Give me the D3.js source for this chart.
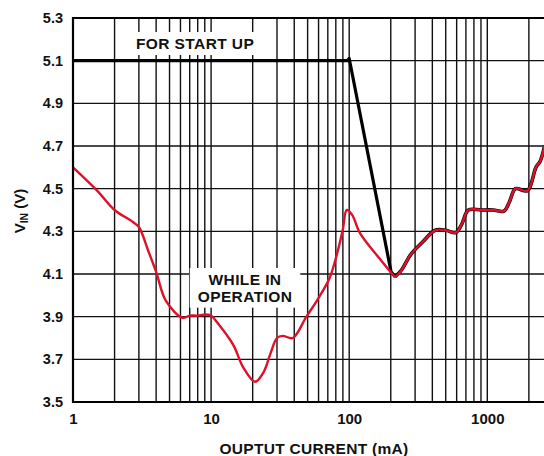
<!DOCTYPE html>
<html>
<head>
<meta charset="utf-8">
<script src="https://cdn.jsdelivr.net/npm/d3@7/dist/d3.min.js"></script>
<style>
  html, body { margin: 0; padding: 0; background: #fff; }
  svg { display: block; }
  text { font-family: "Liberation Sans", Arial, Helvetica, sans-serif; font-weight: bold; fill: #111; }
</style>
</head>
<body>
<svg id="chart" width="544" height="456"></svg>
<script>
// Operating curve: output current (mA) vs. input voltage (V)
const opCurrent = [1, 1.5, 2, 2.7, 3, 3.5, 4, 4.7, 6.2, 7, 8, 9, 10, 11, 14.5, 17, 20.8, 24, 27, 30, 33, 39, 49, 59, 72, 82, 90, 96, 105, 120, 167, 202, 215, 240, 278, 340, 420, 500, 590, 650, 730, 900, 1100, 1320, 1450, 1600, 1950, 2250, 2420, 2600];
const opVin     = [4.60, 4.49, 4.40, 4.345, 4.32, 4.21, 4.11, 3.975, 3.895, 3.905, 3.905, 3.91, 3.905, 3.875, 3.767, 3.665, 3.595, 3.64, 3.73, 3.80, 3.81, 3.80, 3.90, 3.98, 4.08, 4.20, 4.31, 4.40, 4.377, 4.29, 4.17, 4.105, 4.087, 4.12, 4.19, 4.25, 4.305, 4.305, 4.294, 4.33, 4.40, 4.40, 4.40, 4.395, 4.44, 4.50, 4.49, 4.60, 4.63, 4.70];

// Start-up curve until it joins the operating curve
const startCurrent = [1, 97, 100, 201, 215];
const startVin     = [5.10, 5.10, 5.11, 4.11, 4.087];

const xTicks = [1, 10, 100, 1000];
const yTicks = [3.5, 3.7, 3.9, 4.1, 4.3, 4.5, 4.7, 4.9, 5.1, 5.3];

const svg = d3.select("#chart");
const W = 544, plotLeft = 73, plotTop = 18, plotBottom = 402;

const x = d3.scaleLog().domain([1, 1000]).range([plotLeft, 487.3]);
const y = d3.scaleLinear().domain([3.5, 5.3]).range([plotBottom, plotTop]);

svg.append("defs").append("clipPath").attr("id", "plot")
  .append("rect").attr("x", plotLeft).attr("y", plotTop - 2).attr("width", W - plotLeft).attr("height", plotBottom - plotTop + 4);

const g = svg.append("g").attr("clip-path", "url(#plot)");

// vertical grid: 1..9 per decade
const vGrid = [];
for (let e = 0; e <= 3; e++) for (let m = 1; m <= 9; m++) vGrid.push(m * Math.pow(10, e));
g.selectAll("line.v").data(vGrid.filter(v => v > 1)).join("line")
  .attr("class", "v")
  .attr("x1", d => x(d)).attr("x2", d => x(d))
  .attr("y1", plotTop).attr("y2", plotBottom)
  .attr("stroke", "#111").attr("stroke-width", 1.4);

// horizontal grid
g.selectAll("line.h").data(yTicks).join("line")
  .attr("class", "h")
  .attr("x1", plotLeft).attr("x2", W + 10)
  .attr("y1", d => y(d)).attr("y2", d => y(d))
  .attr("stroke", "#111").attr("stroke-width", 1.4);

// annotation labels with white backing
function label(lines, cx, baseline, anchor, pad) {
  const grp = svg.append("g");
  const rect = grp.append("rect").attr("fill", "#fff");
  const t = grp.append("text").attr("font-size", 15.5).attr("letter-spacing", 0.4).attr("text-anchor", anchor);
  lines.forEach((s, i) => t.append("tspan").attr("x", cx).attr("y", baseline + i * 16.7).text(s));
  const b = t.node().getBBox();
  rect.attr("x", b.x - pad[0]).attr("y", b.y - pad[1])
      .attr("width", b.width + 2 * pad[0]).attr("height", b.height + 2 * pad[1]);
}
label(["FOR START UP"], 136, 49, "start", [8, 3]);
label(["WHILE IN", "OPERATION"], 245, 285, "middle", [8, 3]);

// start-up curve (black), continuing under the operating curve once joined
const joinIdx = opCurrent.indexOf(215);
const startPts = startCurrent.map((c, i) => [c, startVin[i]]);
const tailPts = opCurrent.slice(joinIdx).map((c, i) => [c, opVin[joinIdx + i]]);
const opPts = opCurrent.map((c, i) => [c, opVin[i]]);

const lineLin = d3.line().x(d => x(d[0])).y(d => y(d[1])).curve(d3.curveLinear);
const lineSmooth = d3.line().x(d => x(d[0])).y(d => y(d[1])).curve(d3.curveCatmullRom.alpha(0.5));

const plotG = svg.append("g").attr("clip-path", "url(#plot)");
plotG.append("path").datum(startPts).attr("d", lineLin)
  .attr("fill", "none").attr("stroke", "#000").attr("stroke-width", 3.2).attr("stroke-linejoin", "round");
plotG.append("path").datum(tailPts).attr("d", lineSmooth)
  .attr("fill", "none").attr("stroke", "#000").attr("stroke-width", 3.6).attr("stroke-linejoin", "round");

plotG.append("path").datum(opPts).attr("d", lineSmooth)
  .attr("fill", "none").attr("stroke", "#e0102a").attr("stroke-width", 2.4).attr("stroke-linejoin", "round");

// frame: left, top, bottom
svg.append("line").attr("x1", plotLeft).attr("x2", plotLeft).attr("y1", plotTop - 1).attr("y2", plotBottom + 1)
  .attr("stroke", "#000").attr("stroke-width", 2.2);
svg.append("line").attr("x1", plotLeft).attr("x2", W).attr("y1", plotTop).attr("y2", plotTop)
  .attr("stroke", "#000").attr("stroke-width", 2.2);
svg.append("line").attr("x1", plotLeft).attr("x2", W).attr("y1", plotBottom).attr("y2", plotBottom)
  .attr("stroke", "#000").attr("stroke-width", 2.2);

// axes
const xAxis = svg.append("g").attr("transform", `translate(0,${plotBottom})`)
  .call(d3.axisBottom(x).tickValues(xTicks).tickFormat(d3.format("d")).tickSize(0).tickPadding(11));
xAxis.select(".domain").remove();
xAxis.selectAll("text").attr("font-size", 15).attr("font-family", null).attr("fill", "#111");

const yAxis = svg.append("g").attr("transform", `translate(${plotLeft},0)`)
  .call(d3.axisLeft(y).tickValues(yTicks).tickFormat(d3.format(".1f")).tickSize(0).tickPadding(10));
yAxis.select(".domain").remove();
yAxis.selectAll("text").attr("font-size", 14.5).attr("font-family", null).attr("fill", "#111");

// axis titles
svg.append("text").attr("x", 314).attr("y", 454).attr("text-anchor", "middle")
  .attr("font-size", 15.5).attr("letter-spacing", 0.3).text("OUPTUT CURRENT (mA)");

const yt = svg.append("text").attr("transform", "translate(25,211) rotate(-90)")
  .attr("text-anchor", "middle").attr("font-size", 15);
yt.append("tspan").text("V");
yt.append("tspan").attr("font-size", 10.5).attr("dy", 3).text("IN");
yt.append("tspan").attr("dy", -3).text(" (V)");
</script>
</body>
</html>
